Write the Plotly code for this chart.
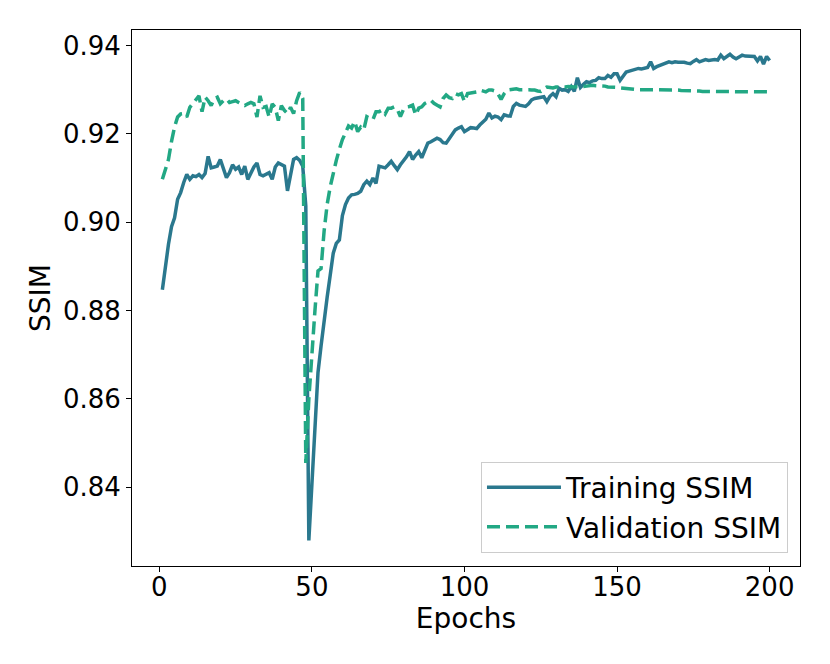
import plotly.graph_objects as go

epochs = list(range(1, 201))

train_ssim = [
    0.8847, 0.8905, 0.8950, 0.8990, 0.9010, 0.9052, 0.9067, 0.9090, 0.9108, 0.9097,
    0.9105, 0.9103, 0.9108, 0.9101, 0.9110, 0.9149, 0.9123, 0.9125, 0.9127, 0.9142,
    0.9120, 0.9101, 0.9112, 0.9130, 0.9120, 0.9125, 0.9108, 0.9127, 0.9097, 0.9112,
    0.9125, 0.9134, 0.9108, 0.9105, 0.9108, 0.9112, 0.9097, 0.9125, 0.9134, 0.9130,
    0.9127, 0.9071, 0.9105, 0.9142, 0.9146, 0.9140, 0.9127, 0.9037, 0.8280, 0.8400,
    0.8550, 0.8660, 0.8720, 0.8780, 0.8830, 0.8880, 0.8930, 0.8952, 0.8960, 0.9015,
    0.9040, 0.9055, 0.9062, 0.9063, 0.9065, 0.9070, 0.9085, 0.9093, 0.9085, 0.9100,
    0.9088, 0.9127, 0.9125, 0.9123, 0.9130, 0.9138, 0.9128, 0.9119, 0.9130, 0.9138,
    0.9148, 0.9160, 0.9142, 0.9152, 0.9160, 0.9146, 0.9162, 0.9179, 0.9182, 0.9186,
    0.9190, 0.9187, 0.9180, 0.9179, 0.9188, 0.9200, 0.9209, 0.9213, 0.9216, 0.9205,
    0.9210, 0.9214, 0.9213, 0.9212, 0.9220, 0.9226, 0.9233, 0.9247, 0.9236, 0.9240,
    0.9238, 0.9232, 0.9243, 0.9241, 0.9240, 0.9262, 0.9269, 0.9265, 0.9263, 0.9262,
    0.9268, 0.9277, 0.9280, 0.9281, 0.9283, 0.9284, 0.9273, 0.9285, 0.9291, 0.9284,
    0.9303, 0.9299, 0.9300, 0.9296, 0.9307, 0.9296, 0.9327, 0.9305, 0.9312, 0.9318,
    0.9316, 0.9320, 0.9321, 0.9327, 0.9325, 0.9325, 0.9332, 0.9328, 0.9336, 0.9336,
    0.9321, 0.9330, 0.9340, 0.9342, 0.9344, 0.9346, 0.9348, 0.9347, 0.9348, 0.9350,
    0.9363, 0.9348, 0.9352, 0.9355, 0.9358, 0.9360, 0.9363, 0.9361, 0.9363, 0.9362,
    0.9363, 0.9362, 0.9360, 0.9359, 0.9364, 0.9368, 0.9363, 0.9366, 0.9368, 0.9366,
    0.9368, 0.9368, 0.9367, 0.9378, 0.9370, 0.9375, 0.9380, 0.9374, 0.9370, 0.9374,
    0.9378, 0.9376, 0.9375, 0.9375, 0.9375, 0.9365, 0.9375, 0.9358, 0.9375, 0.9366,
]

val_ssim = [
    0.9097, 0.9120, 0.9142, 0.9183, 0.9216, 0.9238, 0.9245, 0.9246, 0.9238, 0.9260,
    0.9268, 0.9275, 0.9286, 0.9250, 0.9283, 0.9275, 0.9264, 0.9279, 0.9283, 0.9268,
    0.9275, 0.9279, 0.9271, 0.9273, 0.9275, 0.9271, 0.9268, 0.9264, 0.9268, 0.9271,
    0.9268, 0.9238, 0.9286, 0.9260, 0.9262, 0.9238, 0.9268, 0.9260, 0.9230, 0.9264,
    0.9253, 0.9246, 0.9260, 0.9246, 0.9275, 0.9294, 0.9280, 0.8455, 0.8600, 0.8715,
    0.8800, 0.8890, 0.8895, 0.8980, 0.9040, 0.9080, 0.9112, 0.9140, 0.9165, 0.9187,
    0.9202, 0.9218, 0.9213, 0.9228, 0.9205, 0.9215, 0.9209, 0.9239, 0.9235, 0.9232,
    0.9250, 0.9250, 0.9254, 0.9245, 0.9258, 0.9258, 0.9261, 0.9255, 0.9239, 0.9255,
    0.9261, 0.9262, 0.9265, 0.9243, 0.9258, 0.9261, 0.9269, 0.9272, 0.9276, 0.9269,
    0.9265, 0.9261, 0.9280, 0.9288, 0.9282, 0.9280, 0.9291, 0.9288, 0.9291, 0.9273,
    0.9291, 0.9292, 0.9293, 0.9295, 0.9299, 0.9296, 0.9295, 0.9299, 0.9299, 0.9297,
    0.9290, 0.9278, 0.9291, 0.9299, 0.9300, 0.9301, 0.9302, 0.9300, 0.9300, 0.9301,
    0.9300, 0.9299, 0.9299, 0.9297, 0.9296, 0.9302, 0.9306, 0.9305, 0.9304, 0.9306,
    0.9306, 0.9305, 0.9306, 0.9307, 0.9306, 0.9306, 0.9307, 0.9306, 0.9307, 0.9308,
    0.9310, 0.9310, 0.9309, 0.9309, 0.9308, 0.9308, 0.9306, 0.9306, 0.9305, 0.9305,
    0.9304, 0.9303, 0.9302, 0.9302, 0.9301, 0.9301, 0.9300, 0.9300, 0.9300, 0.9300,
    0.9300, 0.9299, 0.9299, 0.9299, 0.9299, 0.9299, 0.9299, 0.9299, 0.9299, 0.9299,
    0.9298, 0.9298, 0.9298, 0.9297, 0.9297, 0.9297, 0.9297, 0.9296, 0.9296, 0.9296,
    0.9296, 0.9295, 0.9295, 0.9295, 0.9295, 0.9295, 0.9295, 0.9295, 0.9295, 0.9295,
    0.9295, 0.9295, 0.9295, 0.9295, 0.9295, 0.9295, 0.9295, 0.9295, 0.9295, 0.9295,
]

x_ticks = [0, 50, 100, 150, 200]
y_ticks = [0.84, 0.86, 0.88, 0.90, 0.92, 0.94]

FONT = "DejaVu Sans"

fig = go.Figure()
fig.add_trace(go.Scatter(x=epochs, y=train_ssim, mode="lines", name="Training SSIM",
                         line=dict(color="#2a788e", width=3.5)))
fig.add_trace(go.Scatter(x=epochs, y=val_ssim, mode="lines", name="Validation SSIM",
                         line=dict(color="#22a884", width=3.5, dash="13px,6px")))

axis_style = dict(showline=True, linecolor="black", linewidth=1, mirror=True,
                  ticks="outside", ticklen=5, tickcolor="black", showgrid=False,
                  zeroline=False, automargin=False,
                  tickfont=dict(size=26, color="black"))

# page body has an 8px offset, so margins are shifted to line up with the reference
fig.update_layout(
    width=830, height=664,
    margin=dict(l=124, r=38, t=22, b=106),
    paper_bgcolor="white", plot_bgcolor="white",
    font=dict(family=FONT, size=26, color="black"),
    xaxis=dict(range=[-8.95, 209.95], tickvals=x_ticks, ticklabelstandoff=-7,
               title=dict(text="Epochs", font=dict(size=28), standoff=0), **axis_style),
    yaxis=dict(range=[0.8222, 0.9435], tickvals=y_ticks, tickformat=".2f",
               title=dict(text="SSIM", font=dict(size=28), standoff=4), **axis_style),
    legend=dict(x=0.982, y=0.025, xanchor="right", yanchor="bottom",
                bgcolor="rgba(255,255,255,0.8)", bordercolor="#cccccc", borderwidth=1,
                font=dict(size=28), itemwidth=74, tracegroupgap=0),
    showlegend=True,
)

fig.write_html("out.html")
